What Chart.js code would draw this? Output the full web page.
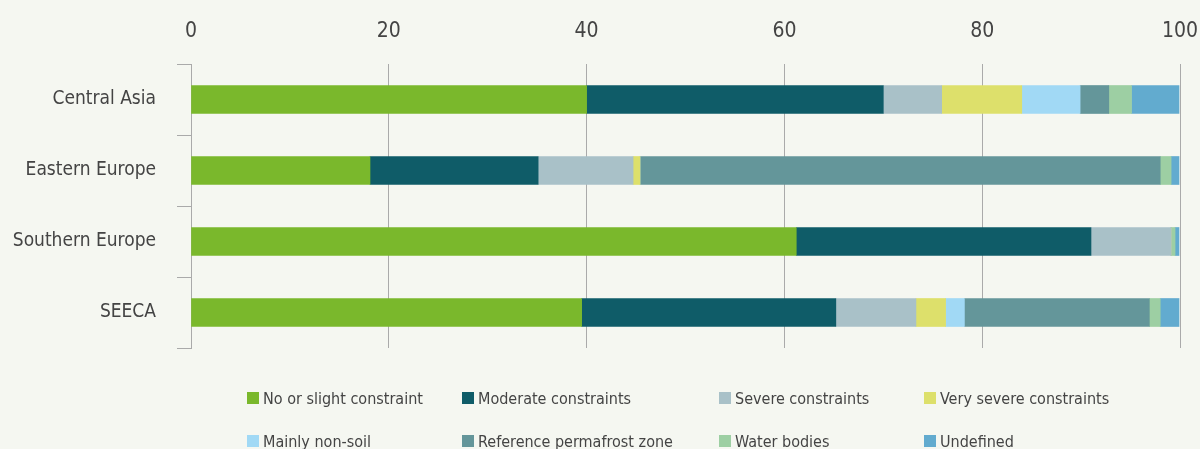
<!DOCTYPE html>
<html>
<head>
<meta charset="utf-8">
<script src="https://cdn.jsdelivr.net/npm/chart.js@4"></script>
<style>
  html, body { margin: 0; padding: 0; background: #f5f7f1; }
  #wrap { position: relative; width: 1200px; height: 449px; overflow: hidden; }
  #chart { position: absolute; left: 0; top: 0; }
  #legend {
    position: absolute; left: 247px; top: 386px;
    display: grid; grid-template-columns: 215px 257px 205px 240px;
    row-gap: 19px;
    font-family: "DejaVu Sans Condensed", "Liberation Sans Narrow", sans-serif;
    font-size: 16px; color: #444;
  }
  #legend .item { display: flex; align-items: center; height: 24px; white-space: nowrap; }
  #legend .box { width: 12px; height: 12px; margin-right: 4px; flex: none; }
</style>
</head>
<body>
<div id="wrap">
  <canvas id="chart" width="1200" height="449"></canvas>
  <div id="legend"></div>
</div>
<script>
// regions on the y axis
const regions = ['Central Asia', 'Eastern Europe', 'Southern Europe', 'SEECA'];

// share of area (%) per constraint class
const noSlight   = [40.0, 18.1, 61.2, 39.5];
const moderate   = [30.0, 17.0, 29.8, 25.7];
const severe     = [5.9, 9.6, 8.1, 8.1];
const verySevere = [8.1, 0.7, 0, 3.0];
const nonSoil    = [5.9, 0, 0, 1.9];
const permafrost = [2.9, 52.6, 0, 18.7];
const water      = [2.3, 1.1, 0.4, 1.1];
const undefinedZ = [4.8, 0.8, 0.4, 1.9];

const xTicks = [0, 20, 40, 60, 80, 100];

const fontFamily = '"DejaVu Sans Condensed", "Liberation Sans Narrow", sans-serif';

const datasets = [
  { label: 'No or slight constraint', data: noSlight, backgroundColor: '#7ab82c' },
  { label: 'Moderate constraints', data: moderate, backgroundColor: '#0f5c68' },
  { label: 'Severe constraints', data: severe, backgroundColor: '#a9c1c8' },
  { label: 'Very severe constraints', data: verySevere, backgroundColor: '#dde06b' },
  { label: 'Mainly non-soil', data: nonSoil, backgroundColor: '#a1d9f5' },
  { label: 'Reference permafrost zone', data: permafrost, backgroundColor: '#64969a' },
  { label: 'Water bodies', data: water, backgroundColor: '#9dcfa3' },
  { label: 'Undefined', data: undefinedZ, backgroundColor: '#62abcf' }
];
datasets.forEach(ds => { ds.barThickness = 28; ds.borderWidth = 0; });

// html legend laid out as a 4 column grid
const htmlLegend = {
  id: 'htmlLegend',
  afterUpdate(chart) {
    const el = document.getElementById('legend');
    el.innerHTML = '';
    for (const ds of chart.data.datasets) {
      const item = document.createElement('div');
      item.className = 'item';
      const box = document.createElement('span');
      box.className = 'box';
      box.style.background = ds.backgroundColor;
      const txt = document.createElement('span');
      txt.textContent = ds.label;
      item.appendChild(box);
      item.appendChild(txt);
      el.appendChild(item);
    }
  }
};

const ctx = document.getElementById('chart').getContext('2d');
new Chart(ctx, {
  type: 'bar',
  data: { labels: regions, datasets: datasets },
  options: {
    indexAxis: 'y',
    responsive: false,
    animation: false,
    layout: { padding: { top: 0, right: 0, bottom: 101, left: 0 } },
    plugins: {
      legend: { display: false },
      tooltip: { enabled: false }
    },
    scales: {
      x: {
        position: 'top',
        stacked: true,
        min: 0,
        max: 100,
        afterBuildTicks: scale => { scale.ticks = xTicks.map(v => ({ value: v })); },
        afterFit: scale => {
          scale.height = 64;
          scale.paddingRight = 20;
          scale.paddingLeft = 0;
        },
        grid: { color: '#aaaaaa', lineWidth: 1, drawTicks: false },
        border: { display: false },
        ticks: {
          padding: 20,
          color: '#444444',
          font: { family: fontFamily, size: 21 }
        }
      },
      y: {
        stacked: true,
        afterFit: scale => { scale.width = 191; },
        grid: { offset: true, drawOnChartArea: false, color: '#aaaaaa', tickLength: 14 },
        border: { display: true, color: '#aaaaaa', width: 1 },
        ticks: {
          padding: 21,
          color: '#444444',
          font: { family: fontFamily, size: 19 }
        }
      }
    }
  },
  plugins: [htmlLegend]
});
</script>
</body>
</html>
